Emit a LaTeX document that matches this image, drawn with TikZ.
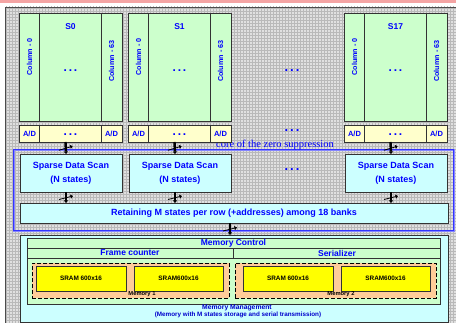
\documentclass[tikz,border=0pt]{standalone}
\usepackage{fontspec}
\setmainfont{Liberation Sans}
\newfontfamily\serifc{Liberation Serif}
\usetikzlibrary{patterns,decorations.markings,arrows.meta}
\definecolor{colgreen}{HTML}{CCFFCC}
\definecolor{adyellow}{HTML}{FFFFCC}
\definecolor{cyanbox}{HTML}{CCFFFF}
\definecolor{peach}{HTML}{FFCC99}
\definecolor{sramyellow}{HTML}{FFFF00}
\definecolor{pinkband}{HTML}{F4A4A4}
\definecolor{txtblue}{HTML}{0000FF}
\definecolor{frameblue}{HTML}{3333FF}
\definecolor{darkblue}{HTML}{0000CC}
\definecolor{edge}{HTML}{333333}
\definecolor{gridbg}{HTML}{E0E0E0}
\begin{document}
\begin{tikzpicture}[x=1pt,y=-1pt,
  box/.style={draw=edge, line width=0.8pt, inner sep=0pt, outer sep=0pt, anchor=north west},
  lbl/.style={text=txtblue, font=\bfseries\fontsize{8.5}{10}\selectfont, inner sep=0pt},
  collbl/.style={text=txtblue, font=\bfseries\fontsize{7.2}{8}\selectfont, inner sep=0pt, rotate=90},
  adlbl/.style={text=txtblue, font=\bfseries\fontsize{7.5}{8}\selectfont, inner sep=0pt},
  dotlbl/.style={text=txtblue, font=\bfseries\fontsize{12}{12}\selectfont, inner sep=0pt},
  sramlbl/.style={font=\bfseries\fontsize{6.4}{7}\selectfont, inner sep=0pt},
  divline/.style={draw=edge, line width=0.8pt},
  bus/.style={line width=2.4pt, -{Triangle[length=2.5pt,width=4pt]},
    postaction={decorate},
    decoration={markings, mark=at position 0.5 with {\draw[line width=0.8pt] (2pt,-7pt) -- (-1.5pt,7pt);}}}
]
\useasboundingbox (0,0) rectangle (456,323);
% background
\fill[pinkband] (0,0) rectangle (456,3.5);
\fill[gridbg] (5,7) rectangle (456,323);
\fill[pattern=grid, pattern color=gray!55] (5,7) rectangle (456,323);
\draw[gray!60!black, line width=0.8pt] (5,323) -- (5,7) -- (456,7);

% core of zero suppression frame
\node[draw=frameblue!60, line width=2pt, inner sep=0pt, minimum width=440pt, minimum height=81pt, anchor=north west] (corehalo) at (13,149) {};
\node[draw=frameblue, line width=0.9pt, inner sep=0pt, minimum width=440pt, minimum height=81pt, anchor=north west] (core) at (13,149) {};
\node[text=txtblue, font=\serifc\fontsize{10.5}{12}\selectfont, anchor=base, inner sep=0pt] (coretxt) at (275,147.5) {core of the zero suppression};

% retaining box
\node[box, fill=cyanbox, minimum width=428pt, minimum height=20pt] (ret) at (20,203) {};
\node[lbl, font=\bfseries\fontsize{9}{10}\selectfont] (rettxt) at (ret.center) {Retaining M states per row (+addresses) among 18 banks};

% column blocks
\foreach \L/\t/\i in {19/S0/0, 128/S1/1, 344/S17/17} {
  \node[box, fill=colgreen, minimum width=103pt, minimum height=108pt] (blk\i) at (\L,13) {};
  \draw[divline] ([xshift=20.5pt]blk\i.north west) -- ([xshift=20.5pt]blk\i.south west);
  \draw[divline] ([xshift=82pt]blk\i.north west) -- ([xshift=82pt]blk\i.south west);
  \node[lbl] (ttl\i) at (\L+51.5,27) {\t};
  \node[dotlbl] (bd\i) at (\L+51.5,70.5) {.\hspace{1.8pt}.\hspace{1.8pt}.};
  \node[collbl] (c0\i) at (\L+10.5,57) {Column - 0};
  \node[collbl] (c63\i) at (\L+92.5,61) {Column - 63};
  \node[box, fill=adyellow, minimum width=103pt, minimum height=17pt] (ad\i) at (\L,125) {};
  \draw[divline] ([xshift=20.5pt]ad\i.north west) -- ([xshift=20.5pt]ad\i.south west);
  \draw[divline] ([xshift=82pt]ad\i.north west) -- ([xshift=82pt]ad\i.south west);
  \node[adlbl] (adl\i) at (\L+10.5,133.5) {A/D};
  \node[adlbl] (adr\i) at (\L+92.5,133.5) {A/D};
  \node[dotlbl] (add\i) at (\L+51.5,134.5) {.\hspace{1.8pt}.\hspace{1.8pt}.};
  \node[box, fill=cyanbox, minimum width=102pt, minimum height=38pt] (sds\i) at (\L+1,154) {};
  \node[lbl, font=\bfseries\fontsize{9}{14}\selectfont, align=center] (sdst\i) at (sds\i.center) {Sparse Data Scan\\(N states)};
  \draw[bus] ([xshift=-5pt]ad\i.south) -- ([xshift=-5pt]sds\i.north);
  \draw[bus] ([xshift=-5pt]sds\i.south) -- ([xshift=-5pt]sds\i.south |- ret.north);
}
% middle dots
\node[dotlbl, font=\bfseries\fontsize{13}{13}\selectfont] (md1) at (292,70.5) {.\hspace{2pt}.\hspace{2pt}.};
\node[dotlbl, font=\bfseries\fontsize{13}{13}\selectfont] (md2) at (292,131) {.\hspace{2pt}.\hspace{2pt}.};
\node[dotlbl, font=\bfseries\fontsize{13}{13}\selectfont] (md3) at (292,169.5) {.\hspace{2pt}.\hspace{2pt}.};

% memory management
\node[box, fill=cyanbox, minimum width=428pt, minimum height=87pt] (mm) at (20,235) {};
\node[box, fill=colgreen, minimum width=413pt, minimum height=66pt] (mc) at (27,238) {};
\node[box, fill=colgreen, minimum width=413pt, minimum height=10pt] (mctitle) at (27,238) {};
\node[lbl] (mctxt) at (mctitle.center) {Memory Control};
\node[box, fill=colgreen, minimum width=206pt, minimum height=10pt] (fc) at (27,248) {};
\node[lbl] (fctxt) at (130,253) {Frame counter};
\node[box, fill=colgreen, minimum width=207pt, minimum height=10pt] (ser) at (233,248) {};
\node[lbl] (sertxt) at (337,253) {Serializer};

\node[draw=black, dash pattern=on 4pt off 2pt, line width=0.8pt, fill=peach, inner sep=0pt, minimum width=197pt, minimum height=35pt, anchor=north west] (mem1) at (32,263) {};
\node[draw=black, dash pattern=on 4pt off 2pt, line width=0.8pt, fill=peach, inner sep=0pt, minimum width=201pt, minimum height=35pt, anchor=north west] (mem2) at (235,263) {};

\node[box, fill=sramyellow, minimum width=90pt, minimum height=25pt] (sr1) at (36,266) {};
\node[sramlbl] (sr1t) at (sr1.center) {SRAM 600x16};
\node[box, fill=sramyellow, minimum width=89pt, minimum height=25pt] (sr2) at (134,266) {};
\node[sramlbl] (sr2t) at (sr2.center) {SRAM600x16};
\node[box, fill=sramyellow, minimum width=90pt, minimum height=25pt] (sr3) at (243,266) {};
\node[sramlbl] (sr3t) at (sr3.center) {SRAM 600x16};
\node[box, fill=sramyellow, minimum width=89pt, minimum height=25pt] (sr4) at (341,266) {};
\node[sramlbl] (sr4t) at (sr4.center) {SRAM600x16};

\node[sramlbl, font=\bfseries\fontsize{5.8}{7}\selectfont] (m1t) at (142,294) {Memory 1};
\node[sramlbl, font=\bfseries\fontsize{5.8}{7}\selectfont] (m2t) at (341,294) {Memory 2};

\node[text=darkblue, font=\bfseries\fontsize{6.8}{8}\selectfont, inner sep=0pt] (mmt1) at (237,308) {Memory Management};
\node[text=darkblue, font=\bfseries\fontsize{6.3}{8}\selectfont, inner sep=0pt] (mmt2) at (238,315) {(Memory with M states storage and serial transmission)};

\draw[bus] ([xshift=-4pt]ret.south) -- ([xshift=-4pt]ret.south |- mm.north);
\end{tikzpicture}
\end{document}
